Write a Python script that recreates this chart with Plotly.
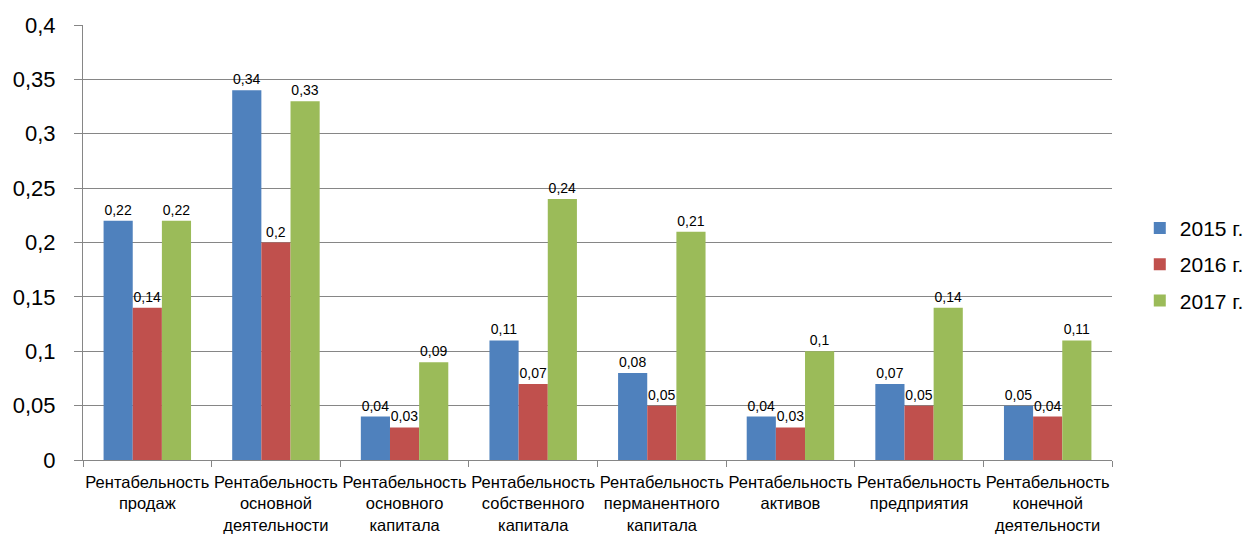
import plotly.graph_objects as go

categories = [
    "Рентабельность<br>продаж",
    "Рентабельность<br>основной<br>деятельности",
    "Рентабельность<br>основного<br>капитала",
    "Рентабельность<br>собственного<br>капитала",
    "Рентабельность<br>перманентного<br>капитала",
    "Рентабельность<br>активов",
    "Рентабельность<br>предприятия",
    "Рентабельность<br>конечной<br>деятельности",
]
series_names = ["2015 г.", "2016 г.", "2017 г."]
values_2015 = [0.22, 0.34, 0.04, 0.11, 0.08, 0.04, 0.07, 0.05]
values_2016 = [0.14, 0.20, 0.03, 0.07, 0.05, 0.03, 0.05, 0.04]
values_2017 = [0.22, 0.33, 0.09, 0.24, 0.21, 0.10, 0.14, 0.11]
colors = ["#4F81BD", "#C0504D", "#9BBB59"]
y_ticks = [0, 0.05, 0.1, 0.15, 0.2, 0.25, 0.3, 0.35, 0.4]

FONT = "Liberation Sans"

def fmt(v):
    s = ("%.2f" % v).rstrip("0").rstrip(".")
    return s.replace(".", ",")

fig = go.Figure()
for name, vals, col in zip(series_names, [values_2015, values_2016, values_2017], colors):
    fig.add_trace(go.Bar(
        x=categories, y=vals, name=name, legendgroup=name,
        marker=dict(color=col, line=dict(width=0)),
        text=[fmt(v) for v in vals],
        textposition="outside",
        textfont=dict(family=FONT, size=14, color="#000000"),
        cliponaxis=False,
    ))

fig.update_layout(
    width=1252, height=537,
    margin=dict(l=75, r=148, t=17, b=85, autoexpand=False),
    paper_bgcolor="white", plot_bgcolor="white",
    barmode="group", bargap=0.32, bargroupgap=0,
    separators=", ",
    font=dict(family=FONT, color="#000000"),
    showlegend=True,
    legend=dict(
        x=1.027, xanchor="left", y=0.45, yanchor="middle",
        font=dict(family=FONT, size=21, color="#000000"),
        tracegroupgap=6, bgcolor="rgba(0,0,0,0)",
    ),
)
fig.update_xaxes(
    showline=True, linecolor="#868686", linewidth=1,
    ticks="outside", tickson="boundaries", ticklen=6, tickcolor="#868686",
    tickangle=0, ticklabelstandoff=7,
    tickfont=dict(family=FONT, size=16.5, color="#000000"),
    showgrid=False,
)
fig.update_yaxes(
    range=[0, 0.4], tickvals=y_ticks, ticktext=[fmt(v) for v in y_ticks],
    showline=True, linecolor="#868686", linewidth=1,
    ticks="outside", ticklen=8, tickcolor="#868686",
    ticklabelstandoff=14,
    showgrid=True, gridcolor="#868686", gridwidth=1,
    zeroline=False,
    tickfont=dict(family=FONT, size=22, color="#000000"),
)

fig.write_html("out.html")
